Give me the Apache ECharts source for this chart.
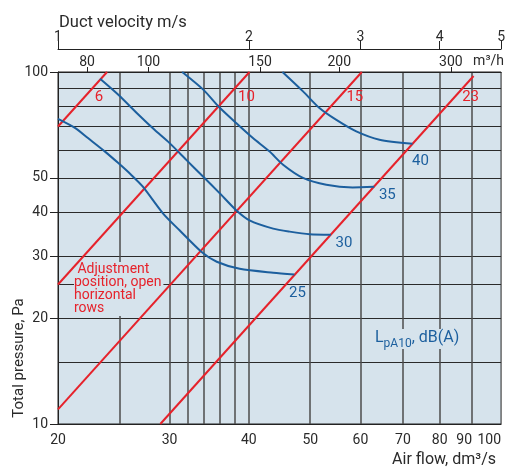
<!DOCTYPE html>
<html><head><meta charset="utf-8">
<script src="https://cdn.jsdelivr.net/npm/echarts@6/dist/echarts.min.js"></script>
<style>html,body{margin:0;padding:0;background:#fff}#c{width:508px;height:468px}</style>
</head><body><div id="c"></div>
<script>
// Axis values
const flowLabels = [20, 30, 40, 50, 60, 70, 80];
const flowEndLabels = [90, 100];
const flowGrid = [25, 30, 32, 34, 36, 38, 40, 50, 60, 70, 80, 90];
const pressureLabels = [10, 20, 30, 40, 50, 100];
const pressureGrid = [15, 20, 25, 30, 40, 50, 60, 70, 80, 90];
const m3hLabels = [80, 100, 150, 200, 300];
const velocityLabels = [1, 2, 3, 4, 5];

// Adjustment position lines [airflow dm3/s, pressure Pa]
const red6 = [[20, 70], [23.9, 100]];
const red10 = [[20, 24.9], [40.1, 100]];
const red15 = [[20, 11], [60.3, 100]];
const red23 = [[29, 10], [90.5, 97.4]];

// Sound level curves LpA10 dB(A)
const db25 = [[20.0, 73.6], [21.3, 69.3], [22.3, 64.9], [23.7, 59.5], [24.9, 55.1], [26.1, 51.0], [27.2, 47.3], [29.3, 39.6], [31.1, 35.5], [33.7, 30.8], [35.6, 28.9], [38.7, 27.6], [43.7, 26.9], [47.2, 26.6]];
const db30 = [[23.3, 95.7], [24.9, 86.2], [26.8, 75.6], [28.4, 68.5], [30.0, 62.8], [31.9, 56.2], [33.9, 50.4], [36.0, 45.2], [38.2, 40.5], [40.1, 37.9], [43.7, 35.9], [46.4, 35.2], [49.9, 34.6], [53.9, 34.5]];
const db35 = [[31.4, 100], [33.9, 89.1], [35.9, 79.5], [38.2, 71.6], [40.6, 64.9], [43.1, 59.5], [45.3, 54.5], [48.7, 50.0], [53.0, 47.8], [58.3, 47.0], [63.1, 47.2]];
const db40 = [[45.2, 100], [48.7, 88.1], [51.7, 79.0], [54.9, 73.2], [59.1, 67.8], [64.3, 64.2], [72.5, 62.5]];

const RED = '#e6222b', BLUE = '#1c5f9e', TXT = '#2a2a2a', BG = '#d6e3ec';
const FONT = 'Roboto';

function lineSeries(name, pts, color, label, offset, smooth) {
  return {
    name, type: 'line', xAxisIndex: 0, yAxisIndex: 0,
    smooth: smooth || 0, symbol: 'circle', symbolSize: 0, showSymbol: true,
    lineStyle: { color, width: 2 }, itemStyle: { color },
    silent: true, animation: false, z: color === RED ? 3 : 4,
    data: pts.map((p, i) => i === pts.length - 1 ? {
      value: p,
      label: { show: true, formatter: label, position: 'inside', offset, color,
        fontSize: 15, fontFamily: FONT, align: 'center', verticalAlign: 'middle' }
    } : p)
  };
}

const chart = echarts.init(document.getElementById('c'), null, { renderer: 'canvas' });
const axisText = { color: TXT, fontSize: 14, fontFamily: FONT };
chart.setOption({
  animation: false,
  title: { text: 'Duct velocity m/s', left: 54, top: 9,
    textStyle: { color: TXT, fontSize: 16.5, fontWeight: 'normal', fontFamily: FONT } },
  grid: { left: 58, right: 6, top: 72, bottom: 44, show: true, backgroundColor: BG,
    borderColor: '#222', borderWidth: 1 },
  xAxis: [
    { type: 'log', logBase: 10, min: 20, max: 100, position: 'bottom',
      axisLine: { show: true, lineStyle: { color: '#222', width: 1 } },
      axisTick: { show: false, customValues: flowGrid },
      axisLabel: { customValues: flowLabels, margin: 9, ...axisText },
      splitLine: { show: true, lineStyle: { color: '#4d4d4d', width: 1.5 } } },
    { type: 'log', logBase: 10, min: 72, max: 360, position: 'top',
      axisLine: { show: true, lineStyle: { color: '#222', width: 1 } },
      axisTick: { show: true, customValues: m3hLabels, length: 5, lineStyle: { color: '#222' } },
      axisLabel: { customValues: m3hLabels, margin: 3, ...axisText },
      splitLine: { show: false } },
    { type: 'log', logBase: 10, min: 1, max: 5, position: 'top', offset: 23,
      axisLine: { show: true, lineStyle: { color: '#222', width: 1 } },
      axisTick: { show: true, customValues: velocityLabels, length: 8, lineStyle: { color: '#222' } },
      axisLabel: { customValues: velocityLabels, margin: 5, ...axisText },
      splitLine: { show: false } },
    { type: 'log', logBase: 10, min: 20, max: 100, position: 'bottom',
      axisLine: { show: false }, axisTick: { show: false },
      axisLabel: { customValues: flowEndLabels, margin: 9, ...axisText, align: 'right',
        showMinLabel: true, showMaxLabel: true },
      splitLine: { show: false } }
  ],
  yAxis: [
    { type: 'log', logBase: 10, min: 10, max: 100, position: 'left',
      axisLine: { show: true, lineStyle: { color: '#222', width: 1 } },
      axisTick: { show: true, customValues: pressureLabels, length: 8, lineStyle: { color: '#222' } },
      axisLabel: { customValues: pressureLabels, margin: 10, ...axisText },
      splitLine: { show: false } },
    { type: 'log', logBase: 10, min: 10, max: 100, position: 'left',
      axisLine: { show: false }, axisLabel: { show: false },
      axisTick: { show: false, customValues: pressureGrid },
      splitLine: { show: true, lineStyle: { color: '#2a2a2a', width: 1.2 } } }
  ],
  graphic: [
    { type: 'text', right: 4, top: 54, z: 1,
      style: { text: 'm³/h', fill: TXT, font: '14px ' + FONT } },
    { type: 'text', left: 74, top: 262, z: 1,
      style: { text: ' Adjustment\nposition, open\nhorizontal\nrows', fill: RED, font: '14px ' + FONT,
        lineHeight: 13, backgroundColor: BG, padding: [1, 2, 1, 0] } },
    { type: 'text', left: 373, top: 329, z: 1,
      style: { text: '{a|L}{b|pA10}{a|, dB(A)}', backgroundColor: BG, padding: [1, 2, 1, 2],
        rich: {
          a: { fill: BLUE, fontSize: 16, fontFamily: FONT, lineHeight: 18, verticalAlign: 'top' },
          b: { fill: BLUE, fontSize: 12, fontFamily: FONT, lineHeight: 12, padding: [8, 0, 0, 0], verticalAlign: 'top' }
        } } },
    { type: 'text', x: 19, y: 358, rotation: Math.PI / 2, z: 1,
      style: { text: 'Total pressure, Pa', fill: TXT, font: '15px ' + FONT, align: 'center', verticalAlign: 'middle' } },
    { type: 'text', right: 12, top: 452, z: 1,
      style: { text: 'Air flow, dm³/s', fill: TXT, font: '16px ' + FONT } }
  ],
  series: [
    lineSeries('6', red6, RED, '6', [-8, 25]),
    lineSeries('10', red10, RED, '10', [-3, 25]),
    lineSeries('15', red15, RED, '15', [-7, 25]),
    lineSeries('23', red23, RED, '23', [-3, 21]),
    lineSeries('25', db25, BLUE, '25', [3, 19], 0.25),
    lineSeries('30', db30, BLUE, '30', [13, 9], 0.25),
    lineSeries('35', db35, BLUE, '35', [13, 8], 0.25),
    lineSeries('40', db40, BLUE, '40', [8, 17], 0.25)
  ]
});
</script></body></html>
